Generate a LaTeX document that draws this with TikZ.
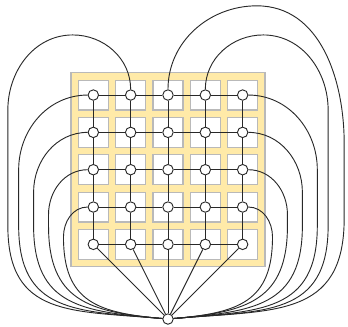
\documentclass[tikz,border=0pt]{standalone}
\usepackage{tikz}
\usetikzlibrary{positioning}

\definecolor{boardyellow}{RGB}{255,234,168}
\definecolor{cellgray}{RGB}{185,185,185}
\definecolor{edgegray}{RGB}{40,40,40}

\tikzset{
  vertex/.style={circle, draw=edgegray, fill=white, line width=0.7pt, minimum size=0.28cm, inner sep=0pt},
  edge/.style={draw=edgegray, line width=0.7pt},
  cell/.style={draw=cellgray, fill=white, line width=0.9pt},
}

\begin{document}
\begin{tikzpicture}
  \useasboundingbox (-4.5,-4.187) rectangle (4.822,4.546);
  \def\BoardHalf{2.6} % half width of the yellow board
  \def\LowY{-1.5}     % where the side loops start bending to the hub

  % yellow board with white cells
  \draw[fill=boardyellow, draw=cellgray, line width=0.9pt] (-\BoardHalf,-\BoardHalf) rectangle (\BoardHalf,\BoardHalf);
  \foreach \r in {0,...,4}
    \foreach \c in {0,...,4}
      \draw[cell] (\c-2.4, 1.6-\r) rectangle ++(0.8,0.8);

  % vertices of the grid and the hub
  \foreach \r in {0,...,4}
    \foreach \c in {0,...,4}
      \node[vertex] (v-\r-\c) at (\c-2, 2-\r) {};
  \node[vertex] (hub) at (0,-4) {};

  % grid edges
  \foreach \r in {0,...,4} {
    \foreach \c in {0,...,3} {
      \pgfmathtruncatemacro\n{\c+1}
      \draw[edge] (v-\r-\c) -- (v-\r-\n);
      \draw[edge] (v-\c-\r) -- (v-\n-\r);
    }
  }

  % bottom row straight to the hub
  \foreach \c in {0,...,4}
    \draw[edge] (v-4-\c) -- (hub);

  % side loops of the left and right columns
  \foreach \r in {0,...,3} {
    \pgfmathsetmacro\SideX{4-0.4*\r}
    \pgfmathsetmacro\SideY{min(-0.6*\r,\LowY)}
    \draw[edge] (v-\r-0) to[out=180,in=90] (-\SideX,-0.6*\r) -- (-\SideX,\SideY)
      to[out=-90,in=175,looseness=1.3] (hub);
    \draw[edge] (v-\r-4) to[out=0,in=90] (\SideX,-0.6*\r) -- (\SideX,\SideY)
      to[out=-90,in=5,looseness=1.3] (hub);
  }

  % loops over the top
  \draw[edge] (v-0-1) to[out=90,in=0] (-2.55,3.61) to[out=180,in=90] (-4.29,1.6) -- (-4.29,\LowY)
    to[out=-90,in=175,looseness=1.3] (hub);
  \draw[edge] (v-0-3) to[out=90,in=180] (2.55,3.61) to[out=0,in=90] (4.29,1.6) -- (4.29,\LowY)
    to[out=-90,in=5,looseness=1.3] (hub);
  \draw[edge] (v-0-2) to[out=90,in=180] (2.38,4.39) to[out=0,in=90] (4.72,0.7) -- (4.72,-1.3)
    to[out=-90,in=5,looseness=1.3] (hub);
\end{tikzpicture}
\end{document}
